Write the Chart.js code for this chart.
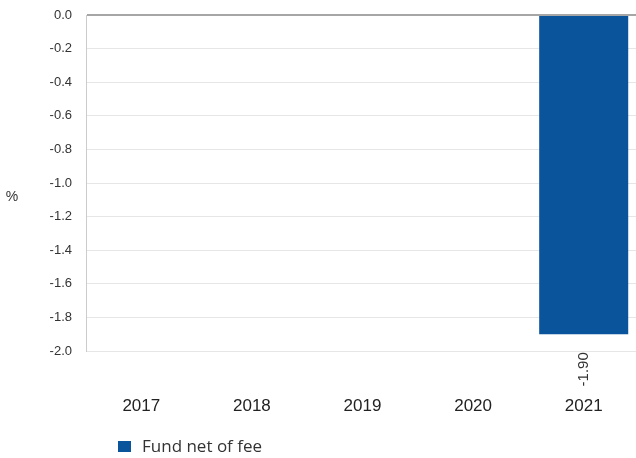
<!DOCTYPE html>
<html>
<head>
<meta charset="utf-8">
<script src="https://cdn.jsdelivr.net/npm/chart.js@4.4.1/dist/chart.umd.min.js"></script>
<style>
html,body{margin:0;padding:0;background:#fff;overflow:hidden;}
#wrap{width:636px;height:458px;position:relative;overflow:hidden;}
</style>
</head>
<body>
<div id="wrap"><canvas id="c" width="639" height="458"></canvas></div>
<script>
const categories = ['2017', '2018', '2019', '2020', '2021'];
const fundNetOfFee = [null, null, null, null, -1.90];
const seriesLabel = 'Fund net of fee';
const yTickMin = -2.0;
const yTickMax = 0.0;
const yTickStep = 0.2;
const yAxisLabel = '%';

const extras = {
  id: 'extras',
  afterDatasetsDraw(chart) {
    const ctx = chart.ctx;
    const meta = chart.getDatasetMeta(0);
    ctx.save();
    ctx.fillStyle = '#333';
    ctx.font = '15px "Liberation Sans", Arial, sans-serif';
    meta.data.forEach((bar, i) => {
      const v = chart.data.datasets[0].data[i];
      if (v === null || v === undefined) return;
      ctx.save();
      ctx.translate(bar.x, bar.y + 18);
      ctx.rotate(-Math.PI / 2);
      ctx.textAlign = 'right';
      ctx.textBaseline = 'middle';
      ctx.fillText(v.toFixed(2), 0, 0);
      ctx.restore();
    });
    // y axis label
    ctx.font = '14px "Liberation Sans", Arial, sans-serif';
    ctx.textAlign = 'center';
    ctx.textBaseline = 'middle';
    ctx.fillText(yAxisLabel, 12, 197);
    // legend
    const ds = chart.data.datasets[0];
    ctx.fillStyle = ds.backgroundColor;
    ctx.fillRect(118, 441, 13, 11);
    ctx.fillStyle = '#333';
    ctx.font = '17px "Open Sans", sans-serif';
    ctx.textAlign = 'left';
    ctx.textBaseline = 'alphabetic';
    ctx.fillText(ds.label, 142, 452);
    ctx.restore();
  }
};

new Chart(document.getElementById('c'), {
  type: 'bar',
  data: {
    labels: categories,
    datasets: [{
      label: seriesLabel,
      data: fundNetOfFee,
      backgroundColor: '#0a549b',
      borderWidth: 0,
      categoryPercentage: 0.805,
      barPercentage: 1.0
    }]
  },
  options: {
    responsive: false,
    animation: false,
    devicePixelRatio: 1,
    layout: { padding: { top: 15, right: 0, bottom: 0, left: 0 } },
    plugins: { legend: { display: false }, tooltip: { enabled: false } },
    scales: {
      x: {
        grid: { display: false, drawTicks: true, tickLength: 45 },
        border: { display: false },
        ticks: { color: '#222', font: { size: 17, family: '"Liberation Sans", Arial, sans-serif' }, padding: 0, maxRotation: 0 },
        afterFit(scale) { scale.height = 107; }
      },
      y: {
        min: yTickMin,
        max: yTickMax,
        ticks: {
          stepSize: yTickStep,
          color: '#333',
          font: { size: 13, family: '"Liberation Sans", Arial, sans-serif' },
          padding: 0,
          callback: (v) => Number(v).toFixed(1)
        },
        grid: {
          drawTicks: true,
          tickLength: 14,
          tickColor: 'rgba(0,0,0,0)',
          color: (c) => (c.tick && Math.abs(c.tick.value) < 1e-9) ? '#a6a6a6' : '#e6e6e6',
          lineWidth: (c) => (c.tick && Math.abs(c.tick.value) < 1e-9) ? 2 : 1
        },
        border: { display: true, color: '#cccccc', width: 1 },
        afterFit(scale) { scale.width = 86; }
      }
    }
  },
  plugins: [extras]
});
</script>
</body>
</html>
